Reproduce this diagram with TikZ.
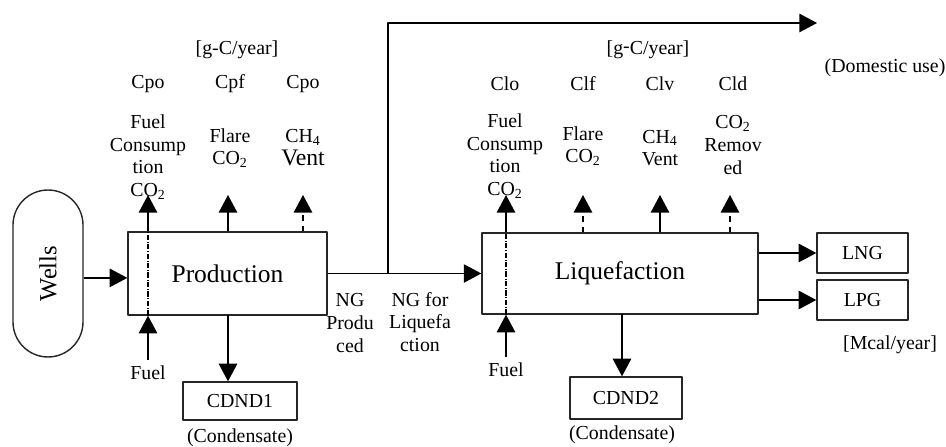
\documentclass[tikz,border=0pt]{standalone}
\usepackage{fontspec}
\setmainfont{Liberation Serif}
\usetikzlibrary{arrows.meta, positioning, calc}

\begin{document}
\begin{tikzpicture}[x=0.02cm, y=-0.02cm, line join=round,
    box/.style={draw=black!85, line width=0.8pt, inner sep=0pt},
    arr/.style={-{Triangle[length=10pt,width=10.5pt]}, line width=0.7pt},
    lbl/.style={font=\fontsize{11.3}{13}\selectfont, align=center, inner sep=0pt},
    big/.style={font=\fontsize{14.5}{16}\selectfont}]
  \useasboundingbox (0,0) rectangle (946,446);
  % boxes
  \node[box, rounded corners=0.7cm, minimum width=1.4cm, minimum height=3.34cm] (wells) at (48,273.5)
    {\rotatebox{90}{\fontsize{14}{16}\selectfont Wells}};
  \node[box, big, minimum width=3.98cm, minimum height=1.66cm] (prod) at (227.5,273.5) {Production};
  \node[box, big, minimum width=5.52cm, minimum height=1.62cm] (liq) at (620,273.5) {Liquefaction};
  \node[box, lbl, minimum width=2.28cm, minimum height=0.76cm] (cdnd1) at (240,401) {CDND1};
  \node[box, lbl, minimum width=2.24cm, minimum height=0.84cm] (cdnd2) at (626,398) {CDND2};
  \node[box, lbl, minimum width=1.82cm, minimum height=0.8cm] (lng) at (862.5,253) {LNG};
  \node[box, lbl, minimum width=1.82cm, minimum height=0.8cm] (lpg) at (862.5,300) {LPG};
  % main flow
  \draw[arr] ([yshift=-2.5pt]wells.east) -- ([yshift=-2.5pt]prod.west);
  \draw[arr] (prod.east) -- (liq.west);
  \coordinate (split) at (388,273.5);
  \coordinate (dom) at (817,23);
  \draw[arr] (split) |- (dom);
  \draw[arr] (liq.east |- lng) -- (lng.west);
  \draw[arr] (liq.east |- lpg) -- (lpg.west);
  \coordinate (pout) at (228,315);
  \coordinate (lout) at (622,314);
  \draw[arr] (pout) -- (pout |- cdnd1.north);
  \draw[arr] (lout) -- (lout |- cdnd2.north);
  % emissions
  \foreach \n/\x in {pfc/148, pfl/228, pch/303, lfc/506, lfl/583, lch/660, lrm/730}
    \coordinate (\n) at (\x,195);
  \draw[arr] (prod.north -| pfc) -- (pfc);
  \draw[arr] (prod.north -| pfl) -- (pfl);
  \draw[arr, dashed] (prod.north -| pch) -- (pch);
  \draw[arr] (liq.north -| lfc) -- (lfc);
  \draw[arr, dashed] (liq.north -| lfl) -- (lfl);
  \draw[arr] (liq.north -| lch) -- (lch);
  \draw[arr, dashed] (liq.north -| lrm) -- (lrm);
  % fuel
  \node[lbl] (fuel1) at (148,373) {Fuel};
  \node[lbl] (fuel2) at (506,370) {Fuel};
  \draw[arr] ([yshift=3pt]fuel1.north) -- (prod.south -| fuel1);
  \draw[arr] ([yshift=3pt]fuel2.north) -- (liq.south -| fuel2);
  \draw[densely dash dot, line width=0.7pt] (prod.south -| fuel1) -- (prod.north -| fuel1);
  \draw[densely dash dot, line width=0.7pt] (liq.south -| fuel2) -- (liq.north -| fuel2);
  % labels
  \node[lbl] (unit1) at (237,50) {[g-C/year]};
  \node[lbl] (unit2) at (648,50) {[g\raisebox{0.3ex}{-}C/year]};
  \foreach \n/\x/\t in {cpo/148/Cpo, cpf/230/Cpf, cpv/303/Cpo, clo/505/Clo, clf/583/Clf, clv/660/Clv, cld/733/Cld}
    \node[lbl] (\n) at (\x,84) {\t};
  \node[lbl] (pfctxt) at (148,157) {Fuel\\Consump\\tion\\CO\textsubscript{2}};
  \node[lbl] (pfltxt) at (230,148) {Flare\\CO\textsubscript{2}};
  \node[lbl] (pchtxt) at (303,148) {CH\textsubscript{4}\\{\fontsize{13.5}{14}\selectfont Vent}};
  \node[lbl] (lfctxt) at (505,156) {Fuel\\Consump\\tion\\CO\textsubscript{2}};
  \node[lbl] (lfltxt) at (583,146) {Flare\\CO\textsubscript{2}};
  \node[lbl] (lchtxt) at (660,148) {CH\textsubscript{4}\\Vent};
  \node[lbl] (lrmtxt) at (733,145) {CO\textsubscript{2}\\Remov\\ed};
  \node[lbl] (ngprod) at (350,323) {NG\\Produ\\ced};
  \node[lbl] (ngliq) at (420,322) {NG for\\Liquefa\\ction};
  \node[lbl] (cond1) at (240,438) {(Condensate)};
  \node[lbl] (cond2) at (622,435) {(Condensate)};
  \node[lbl] (domuse) at (885,68) {(Domestic use)};
  \node[lbl] (mcal) at (890,345) {[Mcal/year]};
\end{tikzpicture}
\end{document}
